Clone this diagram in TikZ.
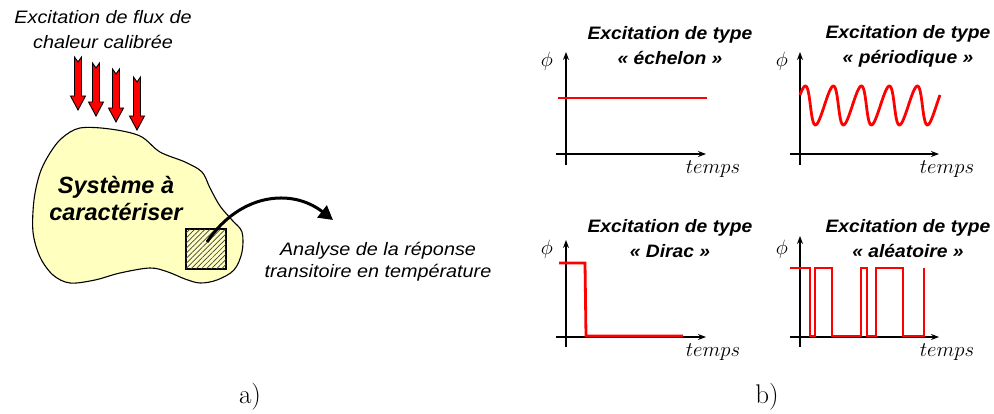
\documentclass[tikz,border=0pt]{standalone}
\usepackage{fontspec}
\usetikzlibrary{arrows.meta,patterns.meta}
\newfontfamily\arialx[FakeStretch=1.1]{Liberation Sans}
\newfontfamily\arialb[FakeStretch=1.07]{Liberation Sans}
\newfontfamily\arialn{Liberation Sans}
\definecolor{blobyellow}{RGB}{255,255,192}
\tikzset{
  redarrow/.style={fill=red,draw=black,line width=0.9pt,line join=miter},
  axis/.style={line width=1.5pt,-{Stealth[length=8pt,width=6pt]}},
  sig/.style={red,line width=2.8pt,line join=miter},
  ttl/.style={align=center,font=\arialb\fontsize{18}{25}\selectfont\bfseries\itshape},
  note/.style={align=center,font=\arialx\fontsize{18}{25}\selectfont\itshape},
  mathlbl/.style={font=\fontsize{22}{24}\selectfont},
  sublbl/.style={font=\fontsize{27}{28}\selectfont},
}
\newcommand{\redarr}[3]{% x, top, tip
  \path[redarrow] (#1-3.5,#2) -- (#1,#2+5) -- (#1+3.5,#2) -- (#1+3.5,#3-14)
    -- (#1+7.5,#3-14) -- (#1,#3) -- (#1-7.5,#3-14) -- (#1-3.5,#3-14) -- cycle;}
\begin{document}
\begin{tikzpicture}[x=1pt,y=-1pt]
\useasboundingbox (0,0) rectangle (994,414);
% ---------- part a ----------
\node[note] (exc) at (103,30) {Excitation de flux de\\chaleur calibrée};
\redarr{78}{57}{110}
\redarr{96}{63}{116}
\redarr{116}{69}{122}
\redarr{137}{77}{130}
\draw[fill=blobyellow,line width=1.1pt] plot[smooth cycle,tension=0.55] coordinates {
  (80,128) (110,129) (140,136) (160,152) (185,162) (202,172) (210,188)
  (220,206) (232,220) (242,232) (242,252) (234,270) (217,280) (200,283)
  (185,279) (168,272) (150,268) (120,273) (95,280) (70,283) (53,275)
  (40,257) (33,232) (34,200) (40,173) (50,153) (62,138)};
\node[font=\arialn\fontsize{23.5}{27}\selectfont\bfseries\itshape,align=center] (sys) at (116,198) {Système à\\caractériser};
\node[draw,line width=1.1pt,fill=blobyellow,minimum size=40pt,inner sep=0pt] (probe) at (206,249) {};
\fill[pattern={Lines[angle=45,distance=3.6pt,line width=0.7pt]},pattern color=black!75] (probe.south west) rectangle (probe.north east);
\draw[line width=1.1pt] (probe.south west) rectangle (probe.north east);
\coordinate (aend) at (333,220);
\draw[line width=3pt,-{Triangle[length=14pt,width=15pt]}] (207,242) .. controls (240,193) and (292,188) .. (aend);
\node[note,font=\arialx\fontsize{18}{22}\selectfont\itshape] (ana) at (378,262) {Analyse de la réponse\\transitoire en température};
\node[sublbl] (la) at (250,397) {a)};
% ---------- part b ----------
% plot 1: echelon
\node[ttl] (t1) at (670,46) {Excitation de type\\« échelon »};
\draw[axis] (566,165) -- (566,52);
\draw[axis] (556,154) -- (706,154);
\draw[sig] (558,98) -- (707,98);
\node[mathlbl] (p1) at (547,61) {$\phi$};
\node[mathlbl] (tm1) at (713,169) {$temps$};
% plot 2: periodique
\node[ttl] (t2) at (908,46) {Excitation de type\\« périodique »};
\draw[axis] (800,165) -- (800,52);
\draw[axis] (790,154) -- (939,154);
\draw[sig,line join=round] plot[domain=32.6:1832.6,samples=220] ({800+(\x-32.6)/12.857+2*(sin(\x)-0.54)},{105.5-19.5*sin(\x)});
\node[mathlbl] (p2) at (782,61) {$\phi$};
\node[mathlbl] (tm2) at (947,169) {$temps$};
% plot 3: dirac
\node[ttl] (t3) at (670,239) {Excitation de type\\« Dirac »};
\draw[axis] (566,347) -- (566,240);
\draw[axis] (556,337) -- (706,337);
\draw[sig] (559,263) -- (585,263) -- (586,336) -- (683,336);
\node[mathlbl] (p3) at (547,249) {$\phi$};
\node[mathlbl] (tm3) at (713,352) {$temps$};
% plot 4: aleatoire
\node[ttl] (t4) at (908,239) {Excitation de type\\« aléatoire »};
\draw[axis] (800,347) -- (800,236);
\draw[axis] (790,337) -- (939,337);
\draw[sig] (790,268) -- (810,268) -- (810,336) -- (815,336) -- (815,268) -- (832,268)
  -- (832,336) -- (861,336) -- (861,268) -- (867,268) -- (867,336) -- (876,336)
  -- (876,268) -- (903,268) -- (903,336) -- (924,336) -- (924,268);
\node[mathlbl] (p4) at (782,249) {$\phi$};
\node[mathlbl] (tm4) at (947,352) {$temps$};
\node[sublbl] (lb) at (767,397) {b)};
\end{tikzpicture}
\end{document}
